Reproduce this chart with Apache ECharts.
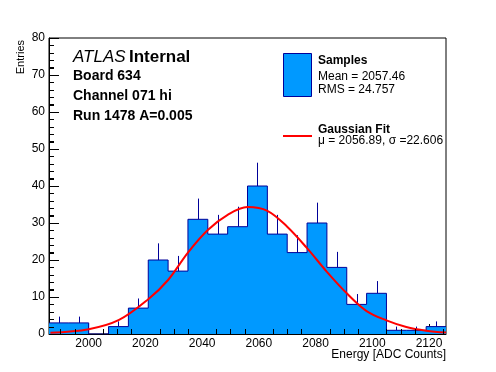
<!DOCTYPE html>
<html>
<head>
<meta charset="utf-8">
<script src="https://cdn.jsdelivr.net/npm/echarts@6/dist/echarts.min.js"></script>
<style>
html,body{margin:0;padding:0;background:#fff;}
#c{width:496px;height:372px;}
</style>
</head>
<body>
<div id="c"></div>
<script>
// ---- data ----
var binEdges = [1986,1993,2000,2007,2014,2021,2028,2035,2042,2049,2056,2063,2070,2077,2084,2091,2098,2105,2112,2119,2126];
var counts   = [3,3,0,2,7,20,17,31,27,29,40,27,22,30,18,8,11,1,1,2];
var errors   = [1.7,1.7,0,1.4,2.6,4.5,4.1,5.6,5.2,5.4,6.3,5.2,4.7,5.5,4.2,2.8,3.3,1,1,1.4];
var fitX = [1986.5,2000,2010.7,2021,2028,2035,2042,2049,2056,2063,2070,2077,2084,2091,2098,2105,2112,2119,2126];
var fitY = [0.35,1.3,3.8,9.4,14.6,22,28.1,32.2,34.3,33.3,29.0,23.2,16.8,11,6.2,3.7,1.9,0.9,0.4];
var xMajorTicks = [2000,2020,2040,2060,2080,2100,2120];
var xMinorTicks = [1990,1995,2005,2010,2015,2025,2030,2035,2045,2050,2055,2065,2070,2075,2085,2090,2095,2105,2110,2115,2125];
var yMinorTicks = [2,4,6,8,12,14,16,18,22,24,26,28,32,34,36,38,42,44,46,48,52,54,56,58,62,64,66,68,72,74,76,78];
var yTickLabels = [0,10,20,30,40,50,60,70,80];

var FONT = 'Liberation Sans, Arial, Helvetica, sans-serif';

// build series data from arrays
var stepData = [];
for (var i = 0; i < counts.length; i++) stepData.push([binEdges[i], counts[i]]);
stepData.push([binEdges[binEdges.length-1], counts[counts.length-1]]);
var errData = [];
for (var j = 0; j < counts.length; j++) {
  if (counts[j] > 0) errData.push([(binEdges[j] + binEdges[j+1]) / 2, counts[j], errors[j]]);
}
var fitData = fitX.map(function(x, k){ return [x, fitY[k]]; });
var plain = function(v){ return String(v); };

var graphics = [
    {type:'text', x:73, y:57.5, style:{text:'{a|ATLAS} {b|Internal}', verticalAlign:'middle', align:'left',
      rich:{a:{fontStyle:'italic', fontSize:17, fontFamily:FONT, fill:'#000'}, b:{fontWeight:'bold', fontSize:17, fontFamily:FONT, fill:'#000'}}}},
    {type:'text', x:73, y:76, style:{text:'Board 634', font:'bold 14px '+FONT, fill:'#000', verticalAlign:'middle'}},
    {type:'text', x:73, y:96, style:{text:'Channel 071 hi', font:'bold 14px '+FONT, fill:'#000', verticalAlign:'middle'}},
    {type:'text', x:73, y:116, style:{text:'Run 1478 A=0.005', font:'bold 14px '+FONT, fill:'#000', verticalAlign:'middle'}},
    {type:'rect', shape:{x:283.5, y:53.5, width:28, height:43}, style:{fill:'#0099ff', stroke:'#000099', lineWidth:1}},
    {type:'text', x:318, y:61, style:{text:'Samples', font:'bold 12px '+FONT, fill:'#000', verticalAlign:'middle'}},
    {type:'text', x:318, y:77, style:{text:'Mean = 2057.46', font:'12px '+FONT, fill:'#000', verticalAlign:'middle'}},
    {type:'text', x:318, y:90, style:{text:'RMS = 24.757', font:'12px '+FONT, fill:'#000', verticalAlign:'middle'}},
    {type:'line', shape:{x1:283, y1:136, x2:312, y2:136}, style:{stroke:'#ff0000', lineWidth:2}},
    {type:'text', x:318, y:129.5, style:{text:'Gaussian Fit', font:'bold 12px '+FONT, fill:'#000', verticalAlign:'middle'}},
    {type:'text', x:318, y:141, style:{text:'\u03bc = 2056.89, \u03c3 =22.606', font:'12px '+FONT, fill:'#000', verticalAlign:'middle'}},
    {type:'text', x:446, y:354.5, style:{text:'Energy [ADC Counts]', font:'12px '+FONT, fill:'#000', align:'right', verticalAlign:'middle'}},
    {type:'text', x:20.5, y:40, rotation:Math.PI/2, style:{text:'Entries', font:'11px '+FONT, fill:'#000', align:'right', verticalAlign:'middle'}}
];

var chart = echarts.init(document.getElementById('c'), null, {renderer:'canvas'});
chart.setOption({
  animation: false,
  backgroundColor: '#ffffff',
  grid: {left:49, top:38, width:397, height:296, show:true, borderColor:'#000', borderWidth:1, backgroundColor:'transparent'},
  xAxis: {
    type:'value', min:1986, max:2126, position:'bottom',
    axisLine:{show:true, lineStyle:{color:'#000', width:1}},
    axisTick:{show:true, inside:true, length:10, customValues:xMajorTicks, lineStyle:{color:'#000'}},
    axisLabel:{show:true, customValues:xMajorTicks, formatter:plain, margin:4, fontSize:12, color:'#000', fontFamily:FONT},
    splitLine:{show:false}
  },
  yAxis: {
    type:'value', min:0, max:80, interval:10, position:'left',
    axisLine:{show:true, lineStyle:{color:'#000', width:1}},
    axisTick:{show:true, inside:true, length:10, lineStyle:{color:'#000'}},
    minorTick:{show:true, splitNumber:5, length:5, lineStyle:{color:'#000', width:1}},
    axisLabel:{margin:4, formatter:plain, fontSize:12, color:'#000', fontFamily:FONT},
    splitLine:{show:false}
  },
  series: [{
    type:'custom', z:2,
    data: errData,
    renderItem: function(params, api){
      var p0 = api.coord([api.value(0), api.value(1)]);
      var p1 = api.coord([api.value(0), api.value(1) + api.value(2)]);
      return {type:'line', shape:{x1:Math.round(p0[0])+0.5, y1:p0[1], x2:Math.round(p1[0])+0.5, y2:p1[1]}, style:{stroke:'#000099', lineWidth:1}};
    }
  },{
    type:'line', step:'end', data: stepData, symbol:'none', z:3,
    lineStyle:{color:'#000099', width:1},
    areaStyle:{color:'#0099ff', opacity:1}
  },{
    type:'line', data: fitData, symbol:'none', smooth:0.35, z:4,
    lineStyle:{color:'#ff0000', width:2}
  }]
});

// minor ticks placed through the chart's own axis scales
var minorG = [];
xMinorTicks.forEach(function(v){
  var p = chart.convertToPixel({xAxisIndex:0, yAxisIndex:0}, [v, 0]);
  var px = Math.round(p[0]) + 0.5, py = Math.round(p[1]);
  minorG.push({type:'rect', z:100, shape:{x:px - 0.5, y:py - 5, width:1, height:5}, style:{fill:'#000'}});
});
yMinorTicks.forEach(function(v){
  var p = chart.convertToPixel({xAxisIndex:0, yAxisIndex:0}, [binEdges[0], v]);
  var px = Math.round(p[0]), py = Math.round(p[1]);
  minorG.push({type:'rect', z:100, shape:{x:px, y:py, width:5, height:1}, style:{fill:'#000'}});
});
chart.setOption({graphic: graphics.concat(minorG)});
</script>
</body>
</html>
